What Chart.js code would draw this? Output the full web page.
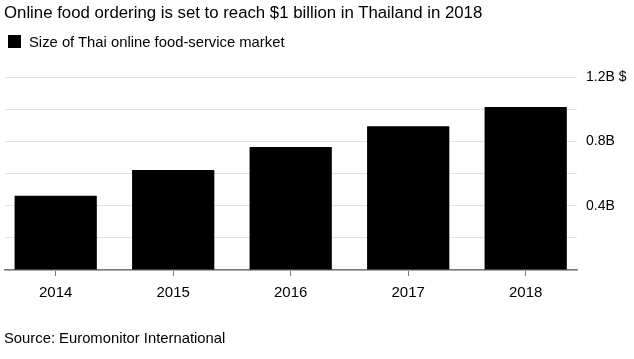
<!DOCTYPE html>
<html>
<head>
<meta charset="utf-8">
<script src="https://cdn.jsdelivr.net/npm/chart.js@4/dist/chart.umd.min.js"></script>
<style>
  body { margin: 0; background: #fff; font-family: "Liberation Sans", Arial, sans-serif; color: #000; }
  #wrap { position: relative; width: 634px; height: 359px; }
  #title { position: absolute; left: 4px; top: 3px; font-size: 16.8px; line-height: 20px; white-space: nowrap; }
  #legend { position: absolute; left: 8px; top: 34px; font-size: 14.8px; line-height: 16px; white-space: nowrap; }
  #legend .box { display: inline-block; width: 13px; height: 13px; background: #000; vertical-align: -1px; margin-right: 8px; }
  #source { position: absolute; left: 4px; top: 329px; font-size: 14.8px; line-height: 18px; white-space: nowrap; }
  canvas { position: absolute; left: 0; top: 0; }
</style>
</head>
<body>
<div id="wrap">
  <canvas id="chart" width="634" height="359"></canvas>
  <div id="title">Online food ordering is set to reach $1 billion in Thailand in 2018</div>
  <div id="legend"><span class="box"></span>Size of Thai online food-service market</div>
  <div id="source">Source: Euromonitor International</div>
</div>
<script>
// 年次データ（単位: 十億ドル）
const years = [2014, 2015, 2016, 2017, 2018];
const marketSize = [0.461, 0.621, 0.764, 0.894, 1.014];
const yTickLabels = { "0.4": "0.4B", "0.8": "0.8B", "1.2": "1.2B $" };
const xMin = 2013.5685;
const xMax = 2018.4366;

document.addEventListener("DOMContentLoaded", () => {
  const canvas = document.getElementById("chart");

  new Chart(canvas, {
    type: "bar",
    data: {
      datasets: [{
        label: "Size of Thai online food-service market",
        data: years.map((y, i) => ({ x: y, y: marketSize[i] })),
        backgroundColor: "#000",
        categoryPercentage: 1,
        barPercentage: 0.7
      }]
    },
    options: {
      responsive: false,
      animation: false,
      layout: { padding: { top: 77, left: 5, right: 0, bottom: 0 } },
      plugins: { legend: { display: false }, tooltip: { enabled: false } },
      scales: {
        x: {
          type: "linear",
          min: xMin,
          max: xMax,
          offset: false,
          afterFit: s => { s.height = 89; },
          grid: { offset: false, drawOnChartArea: false, drawTicks: true, tickLength: 6, color: "#777" },
          border: { display: true, color: "#777", width: 1.5 },
          ticks: {
            stepSize: 1,
            includeBounds: false,
            padding: 8,
            color: "#000",
            font: { family: "Liberation Sans", size: 15 },
            callback: v => String(v)
          }
        },
        y: {
          position: "right",
          min: 0,
          max: 1.2,
          afterFit: s => { s.width = 57; },
          grid: { color: "#e3e3e3", drawTicks: false },
          border: { display: false },
          ticks: {
            stepSize: 0.2,
            padding: 9,
            color: "#000",
            font: { family: "Liberation Sans", size: 14 },
            callback: v => yTickLabels[(Math.round(v * 10) / 10).toString()] || ""
          }
        }
      }
    }
  });
});
</script>
</body>
</html>
